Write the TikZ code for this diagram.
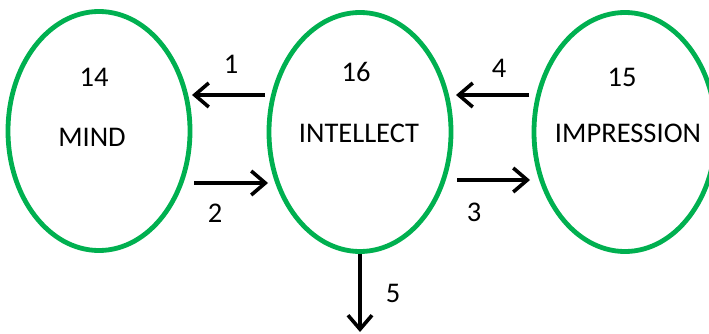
\documentclass[tikz,border=0pt]{standalone}
\usepackage{fontspec}
\setmainfont{Carlito}
\usetikzlibrary{shapes.geometric,arrows.meta}
\definecolor{ogreen}{RGB}{0,176,80}
\begin{document}
\begin{tikzpicture}[x=1pt,y=-1pt,
 oval/.style={ellipse,draw=ogreen,line width=4.8pt,minimum width=182pt,minimum height=239pt,inner sep=0pt},
 lbl/.style={font=\fontsize{28.5}{30}\selectfont,inner sep=0pt,anchor=center},
 arr/.style={line width=3.6pt,-{Straight Barb[length=14pt,width=24pt]}}]
\useasboundingbox (0,0) rectangle (709,334);
\node[oval] (mind) at (99,131) {};
\node[oval] (intellect) at (360,132) {};
\node[oval] (impression) at (625,132) {};
\node[lbl] (n14) at (94,77) {14};
\node[lbl] (tmind) at (92,137) {MIND};
\node[lbl] (n16) at (356,72) {16};
\node[lbl] (tint) at (359,133) {INTELLECT};
\node[lbl] (n15) at (622,77) {15};
\node[lbl] (timp) at (628,133) {IMPRESSION};
\coordinate (a1s) at (265,95);
\coordinate (a1e) at (192,95);
\coordinate (a2s) at (194,183);
\coordinate (a2e) at (268,183);
\coordinate (a4s) at (529,95);
\coordinate (a4e) at (456,95);
\coordinate (a3s) at (457,180);
\coordinate (a3e) at (530,180);
\coordinate (a5e) at (360,332);
\draw[arr] (a1s) -- (a1e);
\draw[arr] (a2s) -- (a2e);
\draw[arr] (a4s) -- (a4e);
\draw[arr] (a3s) -- (a3e);
\draw[arr] (intellect.south) -- (a5e);
\node[lbl] (l1) at (231,64) {1};
\node[lbl] (l2) at (215,213) {2};
\node[lbl] (l4) at (499,68) {4};
\node[lbl] (l3) at (474,212) {3};
\node[lbl] (l5) at (393,293) {5};
\end{tikzpicture}
\end{document}
